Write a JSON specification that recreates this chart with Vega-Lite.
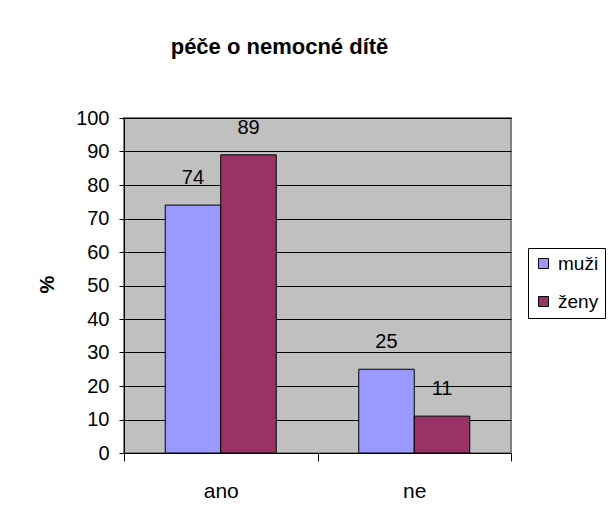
{
  "$schema": "https://vega.github.io/schema/vega-lite/v6.json",
  "width": 387,
  "height": 335,
  "autosize": {"type": "none"},
  "padding": {"left": 124, "top": 118, "right": 98, "bottom": 74},
  "background": "white",
  "title": {
    "text": "péče o nemocné dítě",
    "font": "Liberation Sans",
    "fontSize": 22,
    "fontWeight": "bold",
    "color": "black",
    "anchor": "middle",
    "baseline": "alphabetic",
    "frame": "group",
    "offset": 32,
    "dx": -38
  },
  "data": {
    "values": [
      {"odpoved": "ano", "pohlavi": "muži", "procento": 74},
      {"odpoved": "ano", "pohlavi": "ženy", "procento": 89},
      {"odpoved": "ne", "pohlavi": "muži", "procento": 25},
      {"odpoved": "ne", "pohlavi": "ženy", "procento": 11}
    ]
  },
  "encoding": {
    "x": {
      "field": "odpoved",
      "type": "nominal",
      "sort": ["ano", "ne"],
      "scale": {"paddingInner": 0, "paddingOuter": 0},
      "axis": {
        "title": null,
        "labelAngle": 0,
        "labelFontSize": 21,
        "labelFont": "Liberation Sans",
        "labelColor": "black",
        "labelPadding": 19,
        "tickBand": "extent",
        "tickSize": 8,
        "tickColor": "black",
        "domainColor": "black",
        "grid": false
      }
    },
    "xOffset": {
      "field": "pohlavi",
      "type": "nominal",
      "sort": ["muži", "ženy"],
      "scale": {"paddingOuter": 0.743, "paddingInner": 0}
    },
    "y": {
      "field": "procento",
      "type": "quantitative",
      "scale": {"domain": [0, 100], "nice": false},
      "axis": {
        "title": "%",
        "titleFont": "Liberation Sans",
        "titleFontSize": 20,
        "titleFontWeight": "bold",
        "titleColor": "black",
        "titleAngle": -90,
        "titleX": -77,
        "titleY": 166,
        "titleBaseline": "middle",
        "titleAlign": "center",
        "values": [0, 10, 20, 30, 40, 50, 60, 70, 80, 90, 100],
        "labelFontSize": 20,
        "labelFont": "Liberation Sans",
        "labelColor": "black",
        "labelPadding": 10,
        "tickSize": 5,
        "tickColor": "black",
        "domainColor": "black",
        "grid": true,
        "gridColor": "black",
        "gridOpacity": 1,
        "gridWidth": 1
      }
    }
  },
  "layer": [
    {
      "mark": {"type": "bar", "stroke": "black", "strokeWidth": 1},
      "encoding": {
        "color": {
          "field": "pohlavi",
          "type": "nominal",
          "sort": ["muži", "ženy"],
          "scale": {"domain": ["muži", "ženy"], "range": ["#9999FF", "#993366"]},
          "legend": {
            "title": null,
            "orient": "none",
            "legendX": 404,
            "legendY": 130,
            "strokeColor": "black",
            "fillColor": "white",
            "padding": 6,
            "symbolType": "square",
            "symbolSize": 100,
            "symbolStrokeColor": "black",
            "symbolStrokeWidth": 1,
            "labelFontSize": 19,
            "labelFont": "Liberation Sans",
            "labelColor": "black",
            "labelOffset": 5,
            "rowPadding": 18
          }
        }
      }
    },
    {
      "mark": {
        "type": "text",
        "font": "Liberation Sans",
        "fontSize": 20,
        "color": "black",
        "baseline": "middle",
        "dy": -27
      },
      "encoding": {
        "text": {"field": "procento", "type": "quantitative"}
      }
    }
  ],
  "config": {
    "view": {"fill": "#C0C0C0", "stroke": "#808080", "strokeWidth": 2}
  }
}
